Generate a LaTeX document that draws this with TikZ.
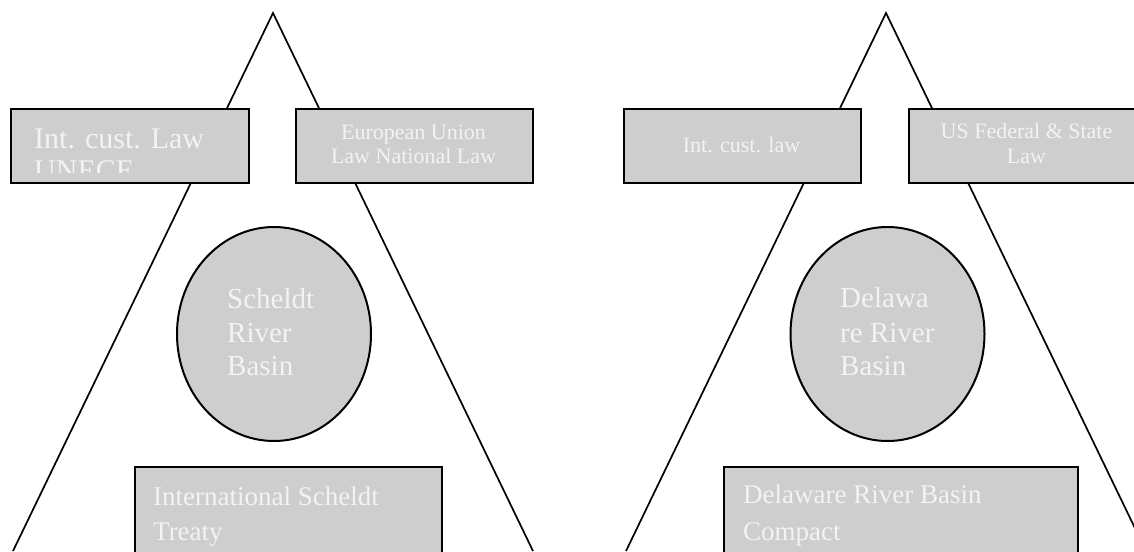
\documentclass[tikz,border=0pt]{standalone}
\usepackage{fontspec}
\setmainfont{Liberation Serif}
\usetikzlibrary{shapes.geometric}
\definecolor{boxfill}{RGB}{206,206,206}
\definecolor{boxtext}{RGB}{243,243,243}
\begin{document}
\begin{tikzpicture}[x=1pt,y=-1pt,
  side/.style={line width=1.7pt},
  panel/.style={draw=black, line width=2.4pt, fill=boxfill, rectangle,
                inner sep=0pt, anchor=north west},
  basin/.style={draw=black, line width=2pt, fill=boxfill, ellipse,
                inner sep=0pt, minimum width=194pt, minimum height=214pt},
  txt/.style={text=boxtext, inner sep=0pt},
  fbig/.style={font=\fontsize{30}{33}\selectfont},
  fmid/.style={font=\fontsize{29}{33}\selectfont},
  flow/.style={font=\fontsize{27}{33}\selectfont},
  fsmall/.style={font=\fontsize{22}{24}\selectfont},
]
\useasboundingbox (0,0) rectangle (1134,551);
\clip (0,0) rectangle (1134,551);

% --- left pyramid: Scheldt ---
\coordinate (apexA) at (273,13);
\coordinate (footAL) at (13,551);
\coordinate (footAR) at (533,551);
\draw[side] (footAL) -- (apexA) -- (footAR);

% --- right pyramid: Delaware ---
\coordinate (apexB) at (886,13);
\coordinate (footBL) at (626,551);
\coordinate (footBR) at (1146,551);
\draw[side] (footBL) -- (apexB) -- (footBR);

% legal layers
\node[panel, minimum width=238pt, minimum height=74pt] (custA) at (10,108) {};
\node[panel, minimum width=237pt, minimum height=74pt] (euA) at (295,108) {};
\node[panel, minimum width=237pt, minimum height=74pt] (custB) at (623,108) {};
\node[panel, minimum width=237pt, minimum height=74pt] (usB) at (908,108) {};

% basins
\node[basin] (basinA) at (274,334) {};
\node[basin] (basinB) at (887.5,334) {};

% treaties
\node[panel, minimum width=307pt, minimum height=120pt] (treatyA) at (134,466) {};
\node[panel, minimum width=354pt, minimum height=120pt] (treatyB) at (723,466) {};

% --- labels ---
\begin{scope}
  \clip (custA.north west) rectangle ([yshift=12pt]custA.south east);
  \node[txt, fbig, anchor=base west] (custA1) at (34,148) {Int. cust. Law};
  \node[txt, fbig, anchor=base west] (custA2) at (34,180) {UNECE};
\end{scope}
\node[txt, fsmall, anchor=base] (euA1) at (413.5,139) {European Union};
\node[txt, fsmall, anchor=base] (euA2) at (413.5,163) {Law National Law};

\node[txt, fsmall, anchor=base] (custB1) at (741.5,152) {Int. cust. law};
\node[txt, fsmall, anchor=base] (usB1) at (1026.5,138) {US Federal \& State};
\node[txt, fsmall, anchor=base] (usB2) at (1026.5,163) {Law};

\node[txt, fmid, anchor=base west] (basinA1) at (227,308) {Scheldt};
\node[txt, fmid, anchor=base west] (basinA2) at (227,342) {River};
\node[txt, fmid, anchor=base west] (basinA3) at (227,375) {Basin};

\node[txt, fmid, anchor=base west] (basinB1) at (840,307) {Delawa};
\node[txt, fmid, anchor=base west] (basinB2) at (840,342) {re River};
\node[txt, fmid, anchor=base west] (basinB3) at (840,375) {Basin};

\node[txt, flow, anchor=base west] (treatyA1) at (153,505) {International Scheldt};
\node[txt, flow, anchor=base west] (treatyA2) at (153,540) {Treaty};

\node[txt, flow, anchor=base west] (treatyB1) at (743,503) {Delaware River Basin};
\node[txt, flow, anchor=base west] (treatyB2) at (743,540) {Compact};
\end{tikzpicture}
\end{document}
